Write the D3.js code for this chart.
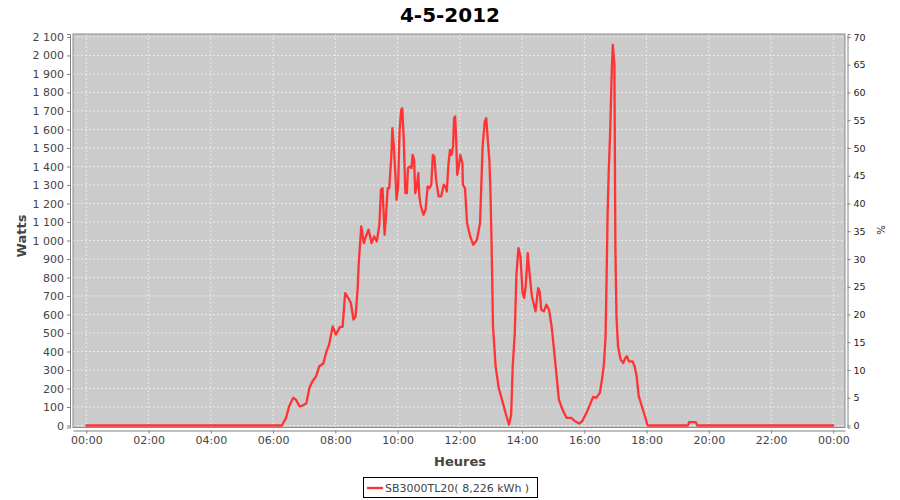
<!DOCTYPE html>
<html>
<head>
<meta charset="utf-8">
<script src="https://cdn.jsdelivr.net/npm/d3@7"></script>
<style>
  html, body { margin: 0; padding: 0; background: #ffffff; }
  svg { display: block; }
</style>
</head>
<body>
<svg id="chart" width="900" height="500"></svg>
<script>
// ---- data ----
const title = "4-5-2012";
const seriesName = "SB3000TL20( 8,226 kWh )";
const times = ["00:00","06:17","06:25","06:31","06:39","06:44","06:51","06:57","07:04","07:10","07:16","07:23","07:29","07:37","07:43","07:48","07:55","08:01","08:09","08:14","08:19","08:26","08:30","08:35","08:39","08:43","08:45","08:50","08:55","08:59","09:04","09:10","09:15","09:20","09:25","09:28","09:31","09:35","09:38","09:41","09:44","09:48","09:50","09:53","09:56","09:58","10:01","10:04","10:07","10:09","10:12","10:15","10:18","10:20","10:24","10:27","10:29","10:32","10:34","10:37","10:40","10:42","10:45","10:50","10:54","10:58","11:02","11:05","11:08","11:11","11:14","11:19","11:24","11:29","11:32","11:35","11:38","11:41","11:44","11:47","11:49","11:51","11:53","11:55","11:58","12:01","12:05","12:06","12:10","12:14","12:20","12:26","12:33","12:39","12:44","12:48","12:51","12:54","12:57","12:59","13:01","13:04","13:09","13:15","13:23","13:30","13:35","13:39","13:42","13:46","13:49","13:53","13:57","14:01","14:04","14:07","14:11","14:15","14:19","14:23","14:26","14:31","14:34","14:37","14:42","14:47","14:52","14:57","15:01","15:06","15:11","15:18","15:26","15:35","15:42","15:50","15:56","16:04","16:11","16:17","16:23","16:30","16:35","16:38","16:41","16:43","16:45","16:47","16:50","16:53","16:55","16:58","17:00","17:02","17:05","17:10","17:15","17:19","17:22","17:26","17:33","17:37","17:41","17:45","17:51","17:57","18:02","19:20","19:22","19:35","19:38","24:00"];
const watts = [0,0,41,104,150,140,104,108,119,203,239,266,320,335,401,437,536,491,533,533,716,684,662,572,590,734,869,1076,986,1022,1058,986,1022,995,1085,1274,1283,1031,1148,1283,1283,1454,1607,1499,1346,1220,1292,1598,1706,1715,1544,1256,1256,1391,1400,1391,1463,1436,1256,1292,1364,1238,1184,1139,1166,1292,1283,1301,1463,1454,1337,1238,1238,1301,1292,1265,1409,1490,1463,1508,1661,1670,1544,1355,1400,1463,1418,1301,1283,1094,1022,977,1004,1094,1508,1643,1661,1544,1436,1274,1022,536,320,203,122,50,5,59,320,500,806,959,914,716,689,752,932,806,698,653,617,743,725,626,617,653,626,536,428,284,140,86,41,41,23,11,23,68,113,155,149,176,266,338,482,800,1148,1364,1598,1922,2057,1958,950,590,428,356,338,365,374,347,347,320,266,158,104,50,0,0,18,18,0,0];
const yTicksLeft = d3.range(0, 2101, 100);
const yTicksRight = d3.range(0, 71, 5);
const leftLabel = "Watts";
const rightLabel = "%";
const xLabel = "Heures";

// ---- layout ----
const svg = d3.select("#chart");
const plot = { left: 73, right: 845, top: 34, bottom: 427.5 };
const day = new Date(2012, 4, 4, 0, 0);
const parse = s => { const [h, m] = s.split(":").map(Number); return new Date(2012, 4, 4, h, m); };
const minute = 60000;
const x = d3.scaleTime()
  .domain([new Date(+day - 25.7 * minute), new Date(+day + (24 * 60 + 22.6) * minute)])
  .range([plot.left, plot.right]);
const y = d3.scaleLinear().domain([-10.8, 2116]).range([plot.bottom, plot.top]);
const yR = d3.scaleLinear().domain([-10.8 / 30, 2116 / 30]).range([plot.bottom, plot.top]);

const loc = d3.formatLocale({ decimal: ",", thousands: "\u00a0", grouping: [3], currency: ["", ""] });
const fmtW = loc.format(",d");

// title
svg.append("text").attr("x", 450).attr("y", 22).attr("text-anchor", "middle")
  .attr("font-family", "DejaVu Sans").attr("font-weight", "bold").attr("font-size", 20)
  .attr("fill", "#000").text(title);

// plot background
svg.append("rect").attr("x", plot.left).attr("y", plot.top)
  .attr("width", plot.right - plot.left).attr("height", plot.bottom - plot.top)
  .attr("fill", "#cbcbcb");

// gridlines
const xTicks = x.ticks(d3.timeHour.every(2));
svg.append("g").selectAll("line").data(yTicksLeft).join("line")
  .attr("x1", plot.left).attr("x2", plot.right)
  .attr("y1", d => y(d)).attr("y2", d => y(d))
  .attr("stroke", "#f2f2f2").attr("stroke-width", 0.8).attr("stroke-dasharray", "2,2");
svg.append("g").selectAll("line").data(xTicks).join("line")
  .attr("x1", d => x(d)).attr("x2", d => x(d))
  .attr("y1", plot.top).attr("y2", plot.bottom)
  .attr("stroke", "#f2f2f2").attr("stroke-width", 0.8).attr("stroke-dasharray", "2,2");

// plot outline
svg.append("rect").attr("x", plot.left).attr("y", plot.top)
  .attr("width", plot.right - plot.left).attr("height", plot.bottom - plot.top)
  .attr("fill", "none").attr("stroke", "#8a8a8a").attr("stroke-width", 1);

// line
const pts = times.map((t, i) => [parse(t), watts[i]]);
svg.append("path").datum(pts)
  .attr("d", d3.line().x(d => x(d[0])).y(d => y(d[1])))
  .attr("fill", "none").attr("stroke", "#ff3333").attr("stroke-width", 2.3)
  .attr("stroke-linejoin", "round").attr("stroke-linecap", "round");

// axes
function styleAxis(g, size, color) {
  g.select(".domain").attr("stroke", "#808080").attr("stroke-width", 1);
  g.selectAll(".tick line").attr("stroke", "#808080");
  g.selectAll(".tick text").attr("font-family", "DejaVu Sans").attr("font-size", size).attr("fill", color);
}
const gl = svg.append("g").attr("transform", "translate(70,0)")
  .call(d3.axisLeft(y).tickValues(yTicksLeft).tickFormat(fmtW).tickSize(3).tickSizeOuter(3).tickPadding(3));
styleAxis(gl, 11, "#444");
const gb = svg.append("g").attr("transform", "translate(0,430.5)")
  .call(d3.axisBottom(x).tickValues(xTicks).tickFormat(d3.timeFormat("%H:%M")).tickSize(3).tickSizeOuter(0).tickPadding(3));
styleAxis(gb, 11, "#444");
const gr = svg.append("g").attr("transform", "translate(847.5,0)")
  .call(d3.axisRight(yR).tickValues(yTicksRight).tickSize(3).tickSizeOuter(3).tickPadding(3));
styleAxis(gr, 9.5, "#222");

// axis labels
svg.append("text").attr("transform", "translate(26,236) rotate(-90)").attr("text-anchor", "middle")
  .attr("font-family", "DejaVu Sans").attr("font-weight", "bold").attr("font-size", 13)
  .attr("fill", "#444").text(leftLabel);
svg.append("text").attr("x", 460).attr("y", 466).attr("text-anchor", "middle")
  .attr("font-family", "DejaVu Sans").attr("font-weight", "bold").attr("font-size", 13)
  .attr("fill", "#444").text(xLabel);
svg.append("text").attr("transform", "translate(877,230) rotate(90)").attr("text-anchor", "middle")
  .attr("font-family", "DejaVu Sans").attr("font-size", 10)
  .attr("fill", "#222").text(rightLabel);

// legend
const lg = svg.append("g");
lg.append("rect").attr("x", 363.5).attr("y", 477.5).attr("width", 174).attr("height", 20)
  .attr("fill", "#fff").attr("stroke", "#000").attr("stroke-width", 1);
lg.append("line").attr("x1", 367).attr("x2", 383).attr("y1", 488).attr("y2", 488)
  .attr("stroke", "#ff3333").attr("stroke-width", 2.3);
lg.append("text").attr("x", 385).attr("y", 492).attr("font-family", "DejaVu Sans").attr("font-size", 11)
  .attr("fill", "#444").text(seriesName);
</script>
</body>
</html>
